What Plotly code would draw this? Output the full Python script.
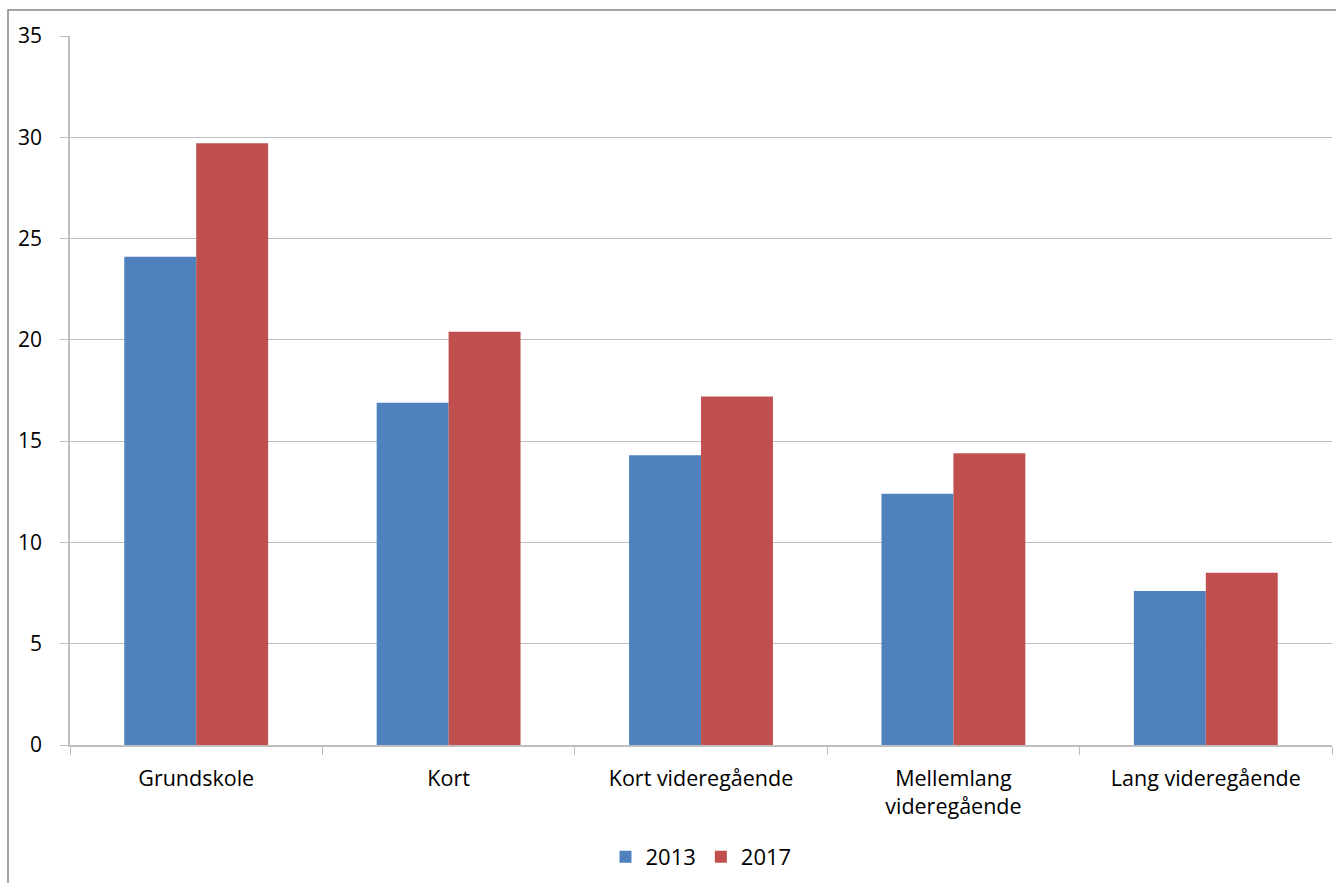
import plotly.graph_objects as go

# Andel (%) fordelt på uddannelsesniveau
categories = ["Grundskole", "Kort", "Kort videregående", "Mellemlang<br>videregående", "Lang videregående"]
values_2013 = [24.1, 16.9, 14.3, 12.4, 7.6]
values_2017 = [29.7, 20.4, 17.2, 14.4, 8.5]
y_ticks = [0, 5, 10, 15, 20, 25, 30, 35]

W, H = 1336, 883
L, R, T, B = 70, 4, 36, 138
pw, ph = W - L - R, H - T - B

def px_x(p):
    return (p - L) / pw

def px_y(p):
    return (H - B - p) / ph

font_family = "'Open Sans', sans-serif"

fig = go.Figure()
fig.add_bar(x=categories, y=values_2013, name="2013", marker_color="#4F81BD", marker_line_width=0)
fig.add_bar(x=categories, y=values_2017, name="2017", marker_color="#C0504D", marker_line_width=0)

fig.update_layout(
    width=W, height=H,
    margin=dict(l=L, r=R, t=T, b=B),
    paper_bgcolor="white", plot_bgcolor="white",
    barmode="group", bargap=0.43, bargroupgap=0,
    font=dict(family=font_family, size=18, color="#000000"),
    showlegend=True,
    legend=dict(orientation="h", x=0.5, xanchor="center", y=px_y(857), yanchor="middle",
                font=dict(size=22), itemwidth=30, tracegroupgap=0),
    shapes=[dict(type="rect", xref="paper", yref="paper",
                 x0=px_x(8), x1=1.2, y0=-0.5, y1=px_y(10),
                 line=dict(color="#868686", width=1.5), layer="below")],
)

fig.update_xaxes(
    showline=True, linecolor="#BFBFBF", linewidth=1.5,
    ticks="outside", tickson="boundaries", ticklen=8, tickcolor="#BFBFBF", tickwidth=1,
    ticklabelstandoff=13,
    showgrid=False,
    tickfont=dict(size=21.5),
)
fig.update_yaxes(
    range=[0, 35], tickvals=y_ticks,
    showline=True, linecolor="#BFBFBF", linewidth=1.5,
    ticks="outside", ticklen=8, tickcolor="#BFBFBF", tickwidth=1,
    ticklabelstandoff=14,
    showgrid=True, gridcolor="#BFBFBF", gridwidth=1,
    zeroline=False,
    tickfont=dict(size=21),
)

fig.write_html("out.html")
